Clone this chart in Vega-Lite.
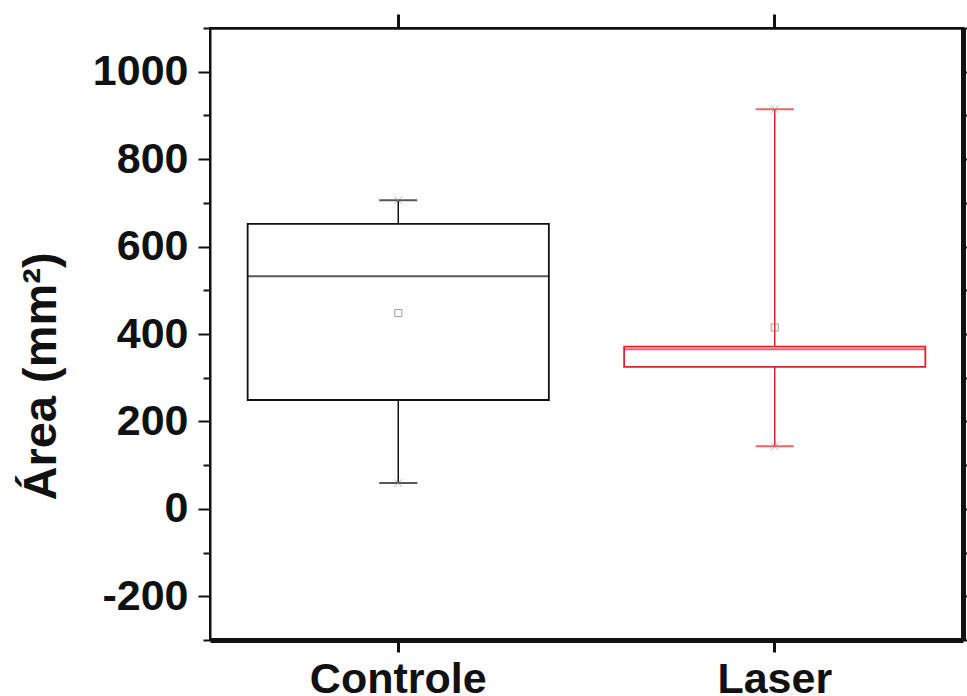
{
  "$schema": "https://vega.github.io/schema/vega-lite/v6.json",
  "width": 753,
  "height": 612,
  "autosize": {"type": "none"},
  "padding": {"left": 210, "top": 28, "right": 4, "bottom": 56},
  "background": "white",
  "config": {
    "view": {"stroke": "#111", "strokeWidth": 2},
    "axis": {
      "grid": false,
      "labelFont": "Liberation Sans",
      "labelFontWeight": "bold",
      "labelFontSize": 43,
      "labelColor": "#111",
      "titleFont": "Liberation Sans",
      "titleFontWeight": "bold",
      "titleFontSize": 47,
      "titleColor": "#111",
      "domainColor": "#111",
      "tickColor": "#111",
      "tickWidth": 2
    }
  },
  "data": {
    "values": [
      {"group": "Controle", "min": 59, "q1": 249, "median": 532, "q3": 652, "max": 706, "mean": 448},
      {"group": "Laser", "min": 143, "q1": 325, "median": 365, "q3": 371, "max": 914, "mean": 415}
    ]
  },
  "resolve": {"axis": {"x": "independent", "y": "independent"}},
  "layer": [
    {
      "mark": {"type": "rule", "strokeWidth": 1.5},
      "encoding": {
        "x": {"field": "group", "type": "nominal", "scale": {"type": "band", "domain": ["Controle", "Laser"], "paddingInner": 0, "paddingOuter": 0},
              "axis": {"orient": "bottom", "title": null, "labelAngle": 0, "domainWidth": 5, "tickSize": 12, "tickWidth": 3, "labelPadding": 6}},
        "y": {"field": "min", "type": "quantitative", "scale": {"domain": [-300, 1100], "nice": false, "zero": false},
              "axis": {"orient": "left", "title": "Área (mm²)", "values": [-300, -200, -100, 0, 100, 200, 300, 400, 500, 600, 700, 800, 900, 1000, 1100],
                       "labelExpr": "datum.value % 200 == 0 ? '' + datum.value : ''",
                       "tickSize": {"condition": {"test": "datum.value % 200 == 0", "value": 12}, "value": 7},
                       "domainWidth": 2, "labelPadding": 10, "titleX": -145, "titleY": 348}},
        "y2": {"field": "max"},
        "stroke": {"field": "group", "type": "nominal", "scale": {"domain": ["Controle", "Laser"], "range": ["#111111", "#d9252b"]}, "legend": null}
      }
    },
    {
      "mark": {"type": "bar", "fill": "white", "strokeWidth": 1.8, "width": {"band": 0.8}},
      "encoding": {
        "x": {"field": "group", "type": "nominal",
              "axis": {"orient": "top", "title": null, "labels": false, "domainWidth": 2.5, "tickSize": 14, "tickWidth": 3}},
        "y": {"field": "q1", "type": "quantitative",
              "axis": {"orient": "right", "title": null, "labels": false, "values": [-300, -200, -100, 0, 100, 200, 300, 400, 500, 600, 700, 800, 900, 1000, 1100], "domainWidth": 5, "tickSize": 10}},
        "y2": {"field": "q3"},
        "stroke": {"field": "group", "type": "nominal", "legend": null}
      }
    },
    {
      "mark": {"type": "tick", "size": 301, "thickness": 2},
      "encoding": {
        "x": {"field": "group", "type": "nominal", "axis": null},
        "y": {"field": "median", "type": "quantitative", "axis": null},
        "color": {"field": "group", "type": "nominal", "scale": {"domain": ["Controle", "Laser"], "range": ["#111111", "#d9252b"]}, "legend": null}
      }
    },
    {
      "mark": {"type": "tick", "size": 38, "thickness": 2},
      "encoding": {
        "x": {"field": "group", "type": "nominal", "axis": null},
        "y": {"field": "max", "type": "quantitative", "axis": null},
        "color": {"field": "group", "type": "nominal", "legend": null}
      }
    },
    {
      "mark": {"type": "tick", "size": 38, "thickness": 2},
      "encoding": {
        "x": {"field": "group", "type": "nominal", "axis": null},
        "y": {"field": "min", "type": "quantitative", "axis": null},
        "color": {"field": "group", "type": "nominal", "legend": null}
      }
    },
    {
      "mark": {"type": "point", "shape": "M-1,-1L1,1M-1,1L1,-1", "size": 60, "filled": false, "stroke": "#999999", "strokeWidth": 1},
      "encoding": {
        "x": {"field": "group", "type": "nominal", "axis": null},
        "y": {"field": "max", "type": "quantitative", "axis": null}
      }
    },
    {
      "mark": {"type": "point", "shape": "M-1,-1L1,1M-1,1L1,-1", "size": 60, "filled": false, "stroke": "#999999", "strokeWidth": 1},
      "encoding": {
        "x": {"field": "group", "type": "nominal", "axis": null},
        "y": {"field": "min", "type": "quantitative", "axis": null}
      }
    },
    {
      "mark": {"type": "point", "shape": "square", "size": 50, "filled": false, "stroke": "#777777", "strokeWidth": 1},
      "encoding": {
        "x": {"field": "group", "type": "nominal", "axis": null},
        "y": {"field": "mean", "type": "quantitative", "axis": null}
      }
    }
  ]
}
